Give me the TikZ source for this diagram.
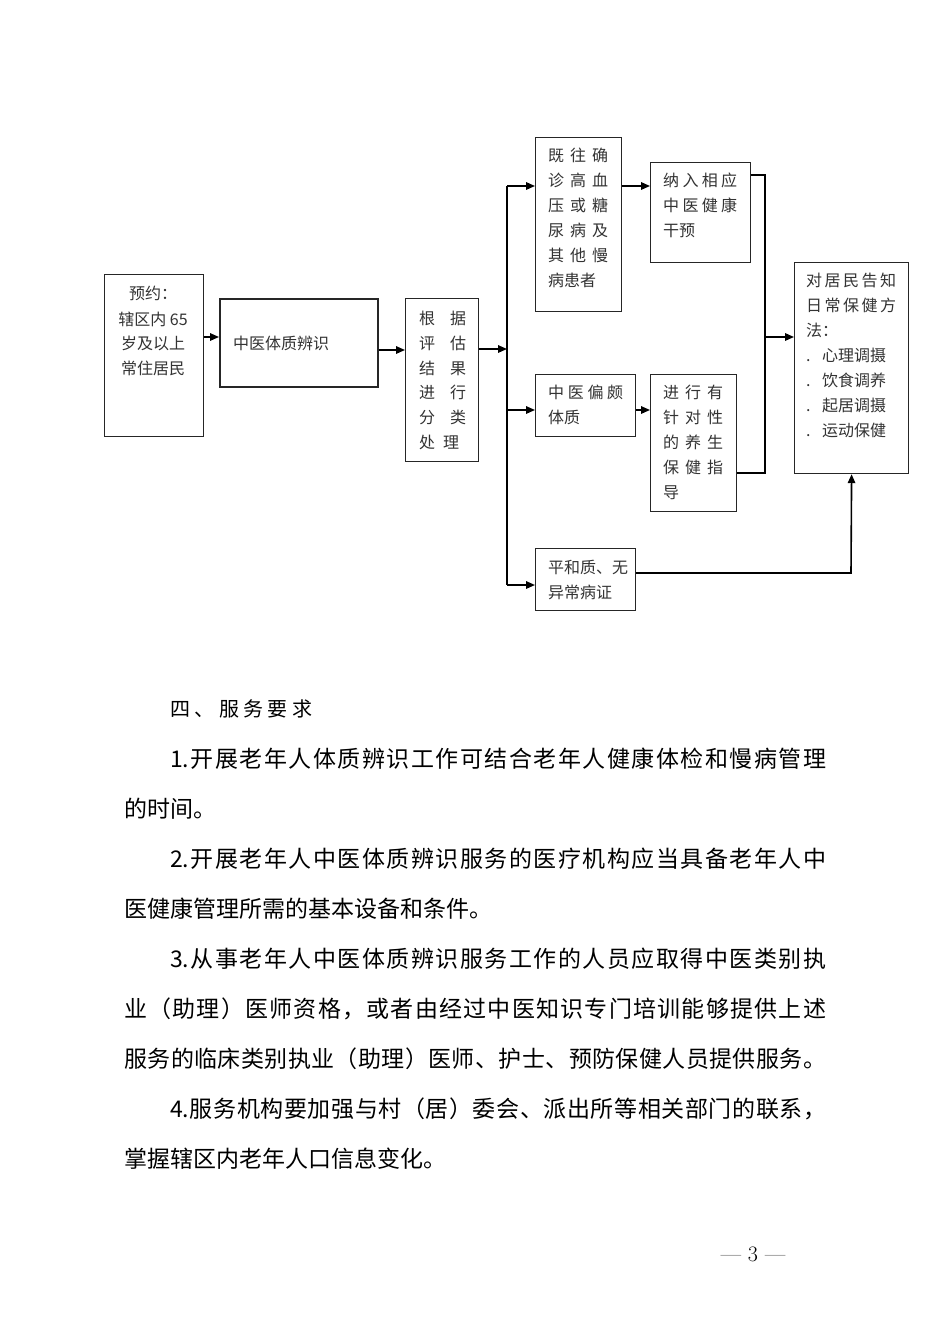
\documentclass[tikz,border=0pt]{standalone}
\usepackage{fontspec}
\newfontfamily\cjk{Noto Sans CJK SC}
\usetikzlibrary{arrows.meta,calc}
\makeatletter
\def\spreadA#1{#1\spreadB}
\def\spreadB#1{\ifx#1\relax\else\hfill#1\expandafter\spreadB\fi}
\newcommand\spreadto[2]{\makebox[#1][l]{\spreadA#2\relax}}
\makeatother
\begin{document}
\begin{tikzpicture}[x=1pt,y=-1pt,
  box/.style={draw=black!85, line width=1.2pt, inner sep=0pt, anchor=north west},
  t/.style={anchor=base west, inner sep=0pt, font=\cjk\fontsize{16}{20}\selectfont, text=black!80},
  tc/.style={t, anchor=base},
  p/.style={anchor=base west, inner sep=0pt, font=\cjk\fontsize{23}{28}\selectfont},
  ln/.style={line width=1.6pt},
  arr/.style={line width=1.6pt, -{Triangle[length=9pt,width=7.5pt]}}]
\fill[white] (0,0) rectangle (950,1344);
\useasboundingbox (0,0) rectangle (950,1344);
% boxes
\node[box, minimum width=99pt, minimum height=162pt] (A) at (104,274) {};
\node[box, line width=1.6pt, minimum width=158pt, minimum height=88pt] (B) at (219,298) {};
\node[box, minimum width=73pt, minimum height=163pt] (C) at (405,298) {};
\node[box, minimum width=86pt, minimum height=174pt] (D) at (535,137) {};
\node[box, minimum width=100pt, minimum height=100pt] (E) at (650,162) {};
\node[box, minimum width=100pt, minimum height=62pt] (F) at (535,374) {};
\node[box, minimum width=86pt, minimum height=137pt] (G) at (650,374) {};
\node[box, minimum width=100pt, minimum height=62pt] (H) at (535,548) {};
\node[box, minimum width=114pt, minimum height=211pt] (I) at (794,262) {};
% texts
\node[tc] (a1) at (153,299) {预约：};
\node[tc] (a2) at (153,325) {辖区内 65};
\node[tc] (a3) at (153,349) {岁及以上};
\node[tc] (a4) at (153,374) {常住居民};
\node[t] (b1) at (233,349) {中医体质辨识};
\node[t] (c1) at (419,324) {\spreadto{47pt}{根据}};
\node[t] (c2) at (419,349) {\spreadto{47pt}{评估}};
\node[t] (c3) at (419,374) {\spreadto{47pt}{结果}};
\node[t] (c4) at (419,398) {\spreadto{47pt}{进行}};
\node[t] (c5) at (419,423) {\spreadto{47pt}{分类}};
\node[t] (c6) at (419,448) {\spreadto{40pt}{处理}};
\node[t] (d1) at (548,161) {\spreadto{60pt}{既往确}};
\node[t] (d2) at (548,186) {\spreadto{60pt}{诊高血}};
\node[t] (d3) at (548,211) {\spreadto{60pt}{压或糖}};
\node[t] (d4) at (548,236) {\spreadto{60pt}{尿病及}};
\node[t] (d5) at (548,261) {\spreadto{60pt}{其他慢}};
\node[t] (d6) at (548,286) {病患者};
\node[t] (e1) at (663,186) {\spreadto{74pt}{纳入相应}};
\node[t] (e2) at (663,211) {\spreadto{74pt}{中医健康}};
\node[t] (e3) at (663,236) {干预};
\node[t] (f1) at (548,398) {\spreadto{75pt}{中医偏颇}};
\node[t] (f2) at (548,423) {体质};
\node[t] (g1) at (663,398) {\spreadto{60pt}{进行有}};
\node[t] (g2) at (663,423) {\spreadto{60pt}{针对性}};
\node[t] (g3) at (663,448) {\spreadto{60pt}{的养生}};
\node[t] (g4) at (663,473) {\spreadto{60pt}{保健指}};
\node[t] (g5) at (663,498) {导};
\node[t] (h1) at (548,573) {平和质、无};
\node[t] (h2) at (548,598) {异常病证};
\node[t] (i1) at (806,286) {\spreadto{90pt}{对居民告知}};
\node[t] (i2) at (806,311) {\spreadto{90pt}{日常保健方}};
\node[t] (i3) at (806,336) {法：};
\node[t] (i4) at (806,361) {\makebox[16pt][l]{.}心理调摄};
\node[t] (i5) at (806,386) {\makebox[16pt][l]{.}饮食调养};
\node[t] (i6) at (806,411) {\makebox[16pt][l]{.}起居调摄};
\node[t] (i7) at (806,436) {\makebox[16pt][l]{.}运动保健};
% connectors
\coordinate (yAB) at (211,337);
\coordinate (yBC) at (390,350);
\coordinate (tr) at (507,349);
\coordinate (tD) at (507,186);
\coordinate (tF) at (507,410);
\coordinate (tH) at (507,585);
\coordinate (r1) at (765,175);
\coordinate (r2) at (765,473);
\coordinate (rI) at (765,337);
\coordinate (hb) at (851,573);
\draw[arr] (A.east |- yAB) -- (B.west |- yAB);
\draw[arr] (B.east |- yBC) -- (C.west |- yBC);
\draw[arr] (C.east |- tr) -- (tr);
\draw[ln] (tD) -- (tH);
\draw[arr] (tD) -- (D.west |- tD);
\draw[arr] (tF) -- (F.west |- tF);
\draw[arr] (tH) -- (H.west |- tH);
\draw[arr] (D.east |- tD) -- (E.west |- tD);
\draw[arr] (F.east |- tF) -- (G.west |- tF);
\draw[ln] (E.east |- r1) -- (r1) -- (r2) -- (G.east |- r2);
\draw[arr] (rI) -- (I.west |- rI);
\draw[arr] (H.east |- hb) -- (hb) -- (I.south);
% text body
\node[p, font=\cjk\fontsize{20}{24}\selectfont] (hd) at (170,716) {\spreadto{142pt}{四、服务要求}};
\node[p] (p1) at (170,767) {\spreadto{656pt}{{1.}开展老年人体质辨识工作可结合老年人健康体检和慢病管理}};
\node[p] (p2) at (124,817) {的时间。};
\node[p] (p3) at (170,867) {\spreadto{656pt}{{2.}开展老年人中医体质辨识服务的医疗机构应当具备老年人中}};
\node[p] (p4) at (124,917) {医健康管理所需的基本设备和条件。};
\node[p] (p5) at (170,967) {\spreadto{656pt}{{3.}从事老年人中医体质辨识服务工作的人员应取得中医类别执}};
\node[p] (p6) at (124,1017) {\spreadto{702pt}{业（助理）医师资格，或者由经过中医知识专门培训能够提供上述}};
\node[p] (p7) at (124,1067) {\spreadto{702pt}{服务的临床类别执业（助理）医师、护士、预防保健人员提供服务。}};
\node[p] (p8) at (170,1117) {\spreadto{656pt}{{4.}服务机构要加强与村（居）委会、派出所等相关部门的联系，}};
\node[p] (p9) at (124,1167) {掌握辖区内老年人口信息变化。};
\node[anchor=base, inner sep=0pt, font=\fontsize{22}{24}\selectfont] (pg) at (753,1261) {—\hspace{7pt}3\hspace{7pt}—};
\end{tikzpicture}
\end{document}
